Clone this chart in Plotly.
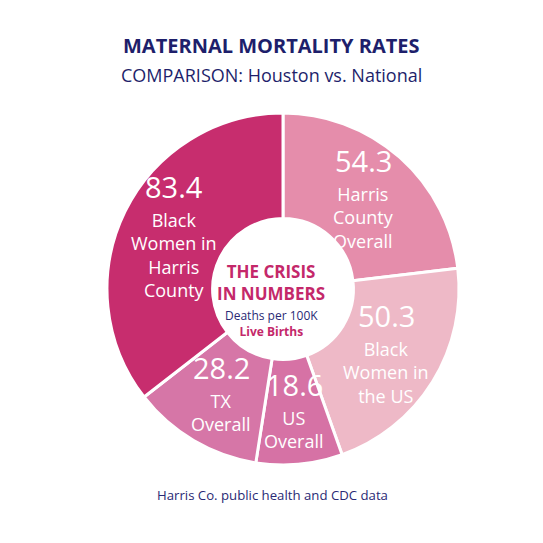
import math
import plotly.graph_objects as go

# data, clockwise from 12 o'clock
rates = [54.3, 50.3, 18.6, 28.2, 83.4]
numbers = ["54.3", "50.3", "18.6", "28.2", "83.4"]
groups = [["Harris", "County", "Overall"],
          ["Black", "Women in", "the US"],
          ["US", "Overall"],
          ["TX", "Overall"],
          ["Black", "Women in", "Harris", "County"]]
colors = ["#E58DAB", "#EEB9C7", "#D672A5", "#D676A7", "#C72D6E"]

W = H = 543
cx, cy, R = 283, 289, 176   # pie centre / radius in px
hole = 0.4
FONT = "Open Sans"

fig = go.Figure(go.Pie(
    values=rates,
    labels=numbers,
    sort=False,
    direction="clockwise",
    rotation=0,
    hole=hole,
    marker=dict(colors=colors, line=dict(color="white", width=3)),
    textinfo="none",
    hoverinfo="skip",
    showlegend=False,
    domain=dict(x=[(cx - R) / W, (cx + R) / W],
                y=[(H - cy - R) / H, (H - cy + R) / H]),
))


def note(x, y, text, size, color, bold=False, yanchor="middle"):
    if bold:
        text = "<b>%s</b>" % text
    fig.add_annotation(x=x / W, y=1 - y / H, xref="paper", yref="paper",
                       xanchor="center", yanchor=yanchor, align="center",
                       text=text, showarrow=False, borderpad=0,
                       font=dict(family=FONT, size=size, color=color))


# slice labels placed at each slice's mid angle
total = sum(rates)
start = 0.0
num_h, line_h = 36, 23.4
for v, num, grp in zip(rates, numbers, groups):
    mid = start + v / total * 360 / 2
    start += v / total * 360
    r = 0.69 * R
    px = cx + r * math.sin(math.radians(mid))
    py = cy - r * math.cos(math.radians(mid))
    split = py - (num_h + line_h * len(grp)) / 2 + num_h
    note(px, split, num, 29, "white", yanchor="bottom")
    note(px, split, "<br>".join(grp), 18, "white", yanchor="top")

# centre text
note(271, 306, "THE CRISIS<br>IN NUMBERS", 17, "#C4286A", bold=True,
     yanchor="bottom")
note(271, 306, "Deaths per 100K<br><b><span style='color:#C4286A'>"
     "Live Births</span></b>", 12, "#2A2A75", yanchor="top")

# titles and footer
note(271, 45, "MATERNAL MORTALITY RATES", 20, "#1E1F6B", bold=True)
note(271, 75, "COMPARISON: Houston vs. National", 18, "#1E1F6B")
note(272, 495, "Harris Co. public health and CDC data", 13.2, "#2A2A75")

fig.update_layout(width=W, height=H, margin=dict(l=0, r=0, t=0, b=0),
                  paper_bgcolor="white", plot_bgcolor="white")
fig.write_html("out.html", config={"displayModeBar": False},
               post_script="document.body.style.margin='0px';")
